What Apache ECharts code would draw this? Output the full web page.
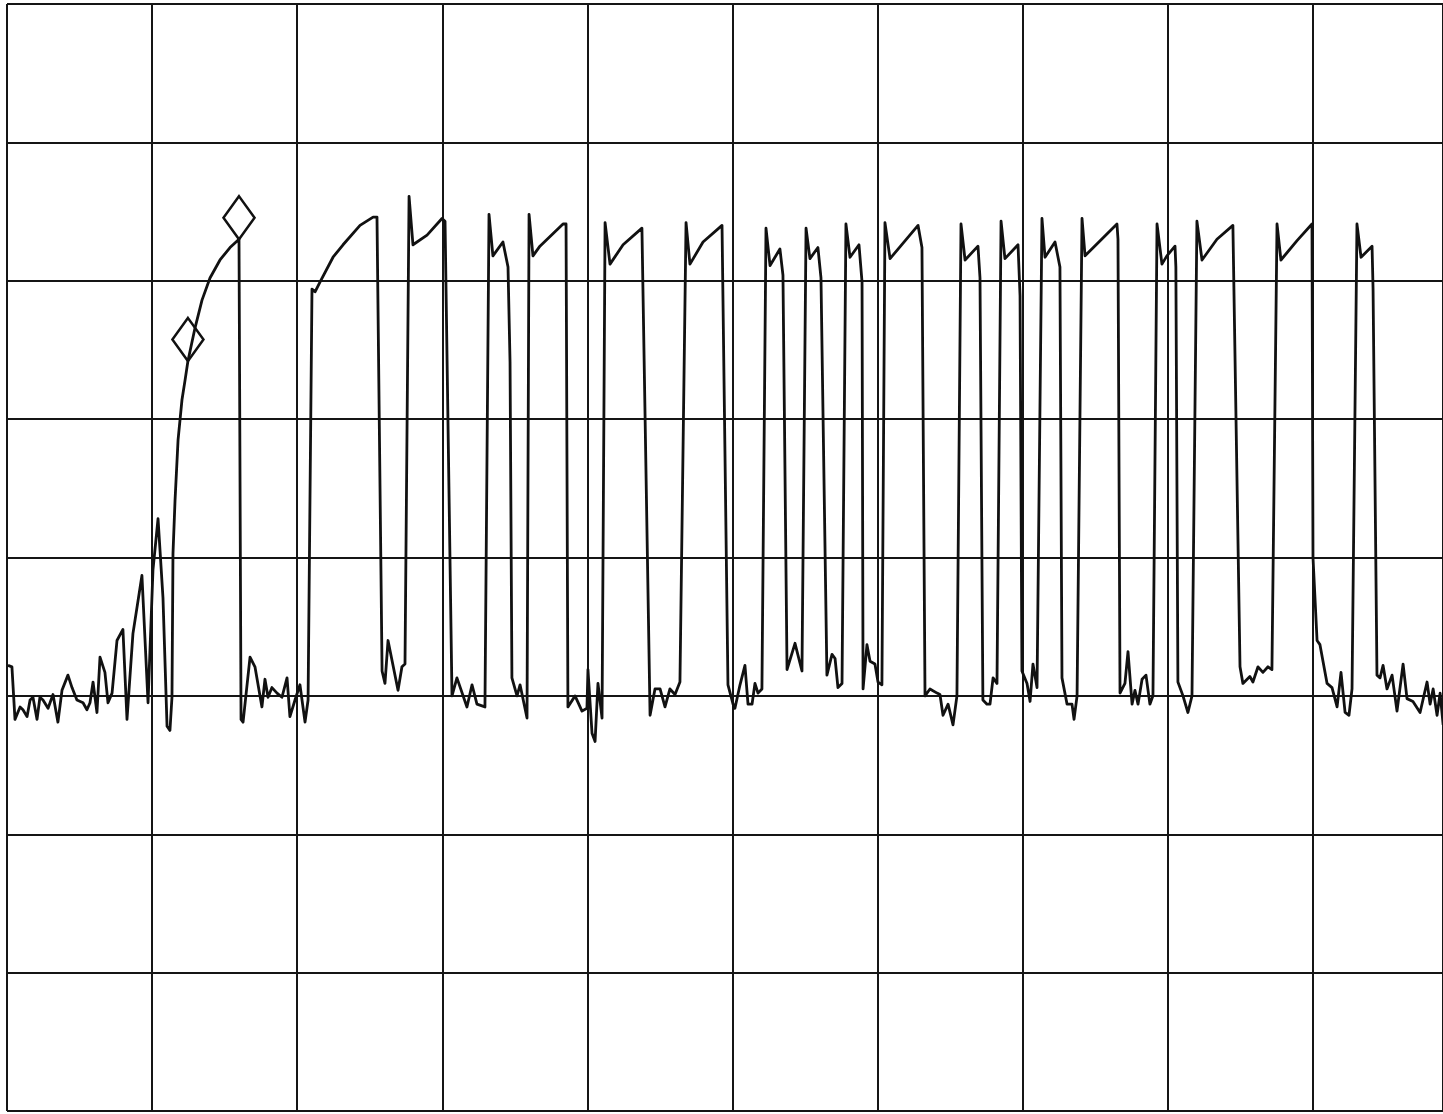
<!DOCTYPE html>
<html>
<head>
<meta charset="utf-8">
<script src="https://cdn.jsdelivr.net/npm/echarts@6/dist/echarts.min.js"></script>
<style>
html,body{margin:0;padding:0;background:#fff;}
#chart{width:1443px;height:1114px;}
</style>
</head>
<body>
<div id="chart"></div>
<script>
// x: sweep position (100 per division, visible part of a 0..1000 sweep); y: level in dB (0 top, -80 bottom, 10 dB/div)
const xPos = [
0.7,3.4,5.5,9.0,11.0,13.8,15.9,17.9,20.7,22.7,24.8,28.3,31.7,35.1,37.9,42.0,44.8,48.2,52.4,55.1,57.2,59.3,62.0,64.1,67.5,69.6,72.4,75.8,79.9,82.7,86.8,93.0,97.2,100.6,104.1,105.4,107.5,110.3,112.3,113.7,114.4,115.8,117.9,120.6,122.7,124.7,129.6,134.4,139.9,146.8,153.7,159.9,
161.3,162.7,167.5,170.9,175.7,177.8,179.9,182.6,186.1,189.5,193.0,195.0,198.5,201.9,205.4,207.5,
210.2,212.3,215.7,224.7,231.6,243.3,252.3,255.0,258.5,260.5,262.6,269.5,272.2,274.3,
277.1,279.8,289.5,299.8,301.9,306.7,310.1,317.0,320.5,323.9,329.4,
332.2,334.9,341.8,345.3,346.7,348.0,351.5,353.6,358.4,
359.8,362.5,367.3,383.2,385.3,386.6,391.5,396.3,399.7,400.4,403.2,405.3,407.3,410.1,
412.2,415.6,424.6,437.6,443.2,446.6,450.1,453.5,456.9,460.4,463.8,
468.0,470.7,479.7,492.8,496.9,500.4,501.7,505.2,508.6,510.7,513.5,515.5,517.6,520.3,
523.1,525.9,532.7,534.8,537.6,543.1,547.9,
550.7,553.4,558.9,561.0,565.1,568.6,570.7,572.7,575.5,
578.2,581.0,587.2,589.3,590.0,592.7,594.8,598.2,600.3,603.0,
605.1,608.6,627.9,630.6,632.7,636.1,641.0,643.0,645.1,648.6,652.0,654.7,
657.5,660.3,669.2,670.6,672.6,675.4,677.5,679.6,682.3,
685.1,687.8,696.8,698.2,699.5,703.0,705.1,707.1,709.9,
713.3,715.4,722.3,725.7,727.1,730.6,734.0,735.4,737.5,
740.9,743.0,765.0,765.7,767.1,770.5,772.6,775.4,777.4,779.5,782.3,785.0,787.7,789.8,
792.6,796.0,799.4,805.0,805.6,807.0,810.5,813.9,816.7,
820.1,823.6,833.9,844.9,849.8,851.8,856.6,858.7,862.2,865.6,869.1,871.8,
875.3,878.0,889.1,899.4,900.1,902.9,904.9,909.8,913.2,916.7,919.4,922.2,924.9,927.0,
930.4,933.2,940.8,941.5,944.2,946.3,948.4,951.1,954.6,958.0,962.2,964.9,969.0,973.9,978.7,980.8,982.9,985.6,987.7,989.8
];
const levelDb = [
-47.8,-47.9,-51.7,-50.8,-51.0,-51.5,-50.3,-50.1,-51.7,-50.1,-50.3,-50.9,-49.9,-51.9,-49.6,-48.5,-49.4,-50.3,-50.5,-51.0,-50.5,-49.0,-51.2,-47.2,-48.3,-50.5,-49.8,-46.0,-45.2,-51.7,-45.5,-41.3,-50.5,-40.9,-37.2,-37.3,-42.9,-52.2,-52.5,-50.1,-39.7,-35.9,-31.5,-28.6,-27.2,-25.8,-23.4,-21.4,-19.8,-18.5,-17.6,-17.0,
-51.7,-51.9,-47.2,-47.9,-50.8,-48.8,-50.1,-49.4,-49.8,-50.1,-48.7,-51.5,-50.3,-49.2,-51.9,-50.3,
-20.6,-20.8,-20.1,-18.3,-17.4,-16.0,-15.4,-15.4,-48.2,-49.1,-46.0,-49.6,-47.9,-47.7,
-13.9,-17.4,-16.7,-15.5,-15.7,-50.0,-48.7,-50.8,-49.2,-50.6,-50.8,
-15.2,-18.2,-17.2,-19.0,-25.9,-48.7,-50.0,-49.2,-51.6,
-15.2,-18.2,-17.5,-15.9,-15.9,-50.8,-50.0,-51.1,-50.9,-48.1,-52.7,-53.3,-49.1,-51.6,
-15.8,-18.8,-17.4,-16.2,-51.4,-49.5,-49.5,-50.8,-49.5,-49.9,-49.0,
-15.8,-18.8,-17.2,-16.0,-49.2,-50.6,-50.9,-49.2,-47.8,-50.6,-50.6,-49.1,-49.8,-49.5,
-16.2,-18.9,-17.7,-19.6,-48.1,-46.2,-48.2,
-16.2,-18.4,-17.6,-19.8,-48.5,-47.0,-47.3,-49.4,-49.1,
-15.9,-18.3,-17.4,-20.1,-49.5,-46.3,-47.5,-47.7,-49.0,-49.2,
-15.8,-18.4,-16.0,-17.6,-50.0,-49.5,-49.8,-49.9,-51.4,-50.6,-52.1,-50.0,
-15.9,-18.5,-17.5,-19.8,-50.3,-50.6,-50.6,-48.7,-49.1,
-15.7,-18.4,-17.4,-21.1,-48.2,-49.1,-50.4,-47.7,-49.4,
-15.5,-18.3,-17.2,-19.0,-48.7,-50.6,-50.6,-51.7,-50.0,
-15.5,-18.2,-15.9,-17.0,-49.8,-49.1,-46.8,-50.6,-49.6,-50.6,-48.8,-48.5,-50.6,-50.0,
-15.9,-18.8,-18.2,-17.5,-19.0,-49.0,-50.0,-51.2,-50.0,
-15.7,-18.5,-17.0,-16.0,-47.9,-49.1,-48.6,-49.0,-47.9,-48.3,-47.9,-48.1,
-15.9,-18.5,-17.1,-15.9,-40.0,-46.0,-46.3,-49.1,-49.4,-50.8,-48.3,-51.2,-51.4,-49.5,
-15.9,-18.3,-17.5,-20.6,-48.5,-48.7,-47.8,-49.5,-48.5,-51.1,-47.7,-50.2,-50.4,-51.2,-49.0,-50.6,-49.5,-51.4,-49.8,-52.1
];
const markerPos = [124.7, 159.9];
const markerDb = [-25.8, -17.0];

const trace = xPos.map((x, i) => [x, levelDb[i]]);
const markers = markerPos.map((x, i) => [x, markerDb[i]]);

const chart = echarts.init(document.getElementById('chart'), null, {renderer: 'canvas'});
chart.setOption({
  animation: false,
  backgroundColor: '#ffffff',
  grid: {left: 7, top: 4, right: 0, height: 1107, containLabel: false},
  xAxis: {
    type: 'value', min: 0, max: 989.7, interval: 100,
    axisLine: {show: false},
    axisTick: {show: false},
    axisLabel: {show: false},
    splitLine: {show: true, lineStyle: {color: '#151515', width: 2}}
  },
  yAxis: {
    type: 'value', min: -80, max: 0, interval: 10,
    axisLine: {show: false},
    axisTick: {show: false},
    axisLabel: {show: false},
    splitLine: {show: true, lineStyle: {color: '#151515', width: 2}}
  },
  series: [
    {
      type: 'line',
      data: trace,
      showSymbol: false,
      symbol: 'none',
      clip: true,
      lineStyle: {color: '#111111', width: 2.8, join: 'round'}
    },
    {
      type: 'scatter',
      data: markers,
      symbol: 'diamond',
      symbolSize: [31, 43],
      symbolOffset: [0, '-50%'],
      itemStyle: {color: 'rgba(0,0,0,0)', borderColor: '#111111', borderWidth: 2.6, opacity: 1},
      z: 5
    }
  ]
});
</script>
</body>
</html>
